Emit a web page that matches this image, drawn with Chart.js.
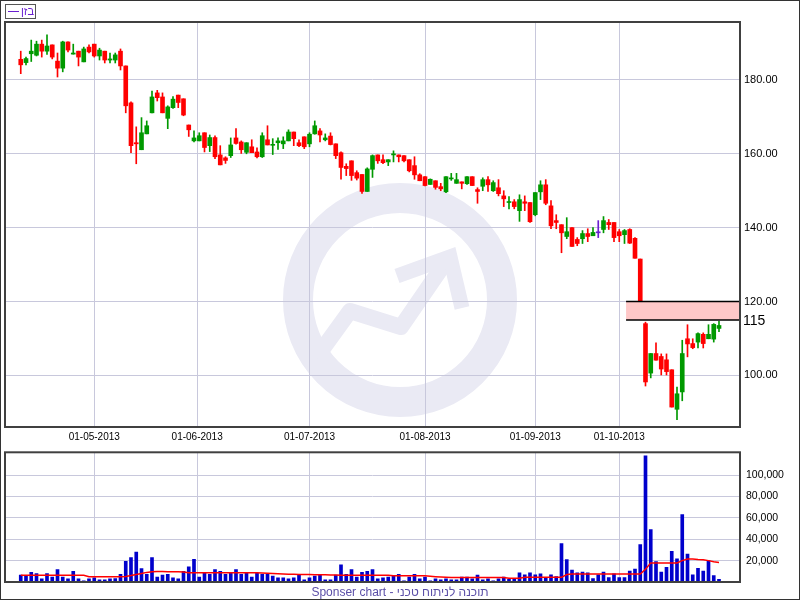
<!DOCTYPE html>
<html>
<head>
<meta charset="utf-8">
<script src="https://cdn.jsdelivr.net/npm/chart.js@4.4.1/dist/chart.umd.min.js"></script>
<style>
  html, body { margin: 0; padding: 0; background: #fff; }
  #tela { position: relative; width: 800px; height: 600px; overflow: hidden; font-family: Arial, "Liberation Sans", sans-serif; }
  #graficoPreco { position: absolute; left: 0; top: 0; }
  #graficoVolume { position: absolute; left: 0; top: 440px; }
  #moldura { position: absolute; left: 0; top: 0; width: 800px; height: 600px; box-sizing: border-box; border: 1px solid #333; pointer-events: none; }
  #rodape { position: absolute; left: 0; top: 585px; width: 800px; text-align: center; font-size: 12px; line-height: 14px; color: #5b4fa8; }
</style>
</head>
<body>
<div id="tela">
  <canvas id="graficoPreco" width="800" height="444"></canvas>
  <canvas id="graficoVolume" width="800" height="160"></canvas>
  <div id="rodape">Sponser chart - תוכנה לניתוח טכני</div>
  <div id="moldura"></div>
</div>
<script>
// Velas diárias (abertura, máxima, mínima, fechamento)
const abertura = [185.6,184.7,187.1,186.7,189.7,187.8,189.5,185.1,183.2,190.3,187.0,187.8,184.9,188.9,189.7,186.5,187.8,185.4,185.4,187.8,
  183.8,173.8,163.0,161.1,165.4,171.1,176.5,175.4,169.6,172.5,175.9,174.9,167.8,163.5,163.5,165.7,162.2,164.4,159.7,158.9,
  159.5,164.3,163.2,160.4,161.9,160.5,159.2,163.8,162.3,163.0,162.7,163.5,165.9,163.0,164.6,162.7,165.4,166.2,163.8,164.8,
  162.7,160.3,156.6,158.1,154.9,154.4,149.8,155.8,159.7,158.4,157.8,159.7,159.7,159.5,158.4,156.8,154.3,153.8,151.7,152.7,
  151.1,149.7,153.2,152.0,152.4,151.9,153.8,150.3,151.2,153.0,150.0,150.8,148.6,146.8,147.0,144.6,147.0,146.8,143.5,149.7,
  151.6,145.9,141.9,140.8,137.6,140.0,136.8,137.0,138.4,137.8,138.6,139.5,141.4,141.4,138.9,138.1,139.5,137.1,131.5,114.0,
  100.6,105.9,105.1,104.2,101.5,90.8,95.5,109.9,108.6,109.0,111.1,109.9,109.8,112.7];
const maxima = [187.8,186.2,190.8,190.5,190.8,192.2,189.5,187.3,190.5,190.3,189.7,187.8,188.9,189.5,189.7,188.6,187.8,187.3,187.3,188.4,
  183.8,174.1,167.3,169.8,168.9,177.0,177.2,176.5,173.0,175.5,175.9,174.9,167.8,166.2,165.7,165.7,165.1,164.9,162.2,159.2,
  164.3,166.8,163.5,163.0,163.8,161.6,165.7,167.6,164.1,164.3,164.6,166.5,165.9,163.8,164.6,165.7,168.9,166.8,165.4,165.7,
  162.7,160.5,157.3,158.1,155.4,154.4,156.2,159.7,159.7,159.7,158.4,160.8,159.7,159.5,158.4,159.2,154.6,153.8,153.2,152.7,
  152.0,153.8,154.7,154.7,152.4,153.8,153.8,150.8,153.5,153.8,152.7,153.0,150.0,148.4,147.6,148.9,148.6,146.8,149.5,152.7,
  153.0,147.3,143.5,140.8,142.7,140.0,137.3,139.2,139.7,140.0,141.9,143.0,142.2,141.4,139.5,139.5,139.7,137.3,131.5,114.4,
  105.9,108.8,105.8,105.8,101.5,96.8,109.5,113.7,109.9,111.5,111.5,113.7,114.0,114.6];
const minima = [181.7,184.1,185.0,186.5,186.2,186.9,185.7,180.8,182.2,187.6,187.0,183.8,184.9,187.3,186.2,185.4,184.6,184.6,184.6,182.7,
  171.1,160.3,157.3,161.1,165.4,171.1,174.3,171.1,166.8,172.3,172.5,170.3,164.7,163.2,163.5,160.5,160.6,158.7,157.0,157.4,
  159.0,162.6,160.1,160.0,160.3,158.9,159.0,162.4,159.8,161.2,161.4,163.5,162.2,161.9,161.4,161.9,165.3,163.2,163.5,162.4,
  158.7,153.1,154.1,152.8,152.9,149.3,149.8,153.6,157.4,157.3,156.8,157.8,157.8,157.8,155.1,153.1,152.7,151.3,151.7,150.4,
  150.0,149.5,152.8,152.0,150.5,151.7,151.4,146.6,150.0,149.8,149.8,148.6,145.7,145.1,145.1,141.7,144.6,141.4,143.2,147.6,
  146.2,139.7,139.7,133.2,137.0,134.9,135.1,135.7,136.2,137.8,137.3,138.6,139.5,136.2,136.2,135.7,135.7,131.7,120.0,97.1,
  99.3,104.1,100.1,100.1,91.4,88.0,93.1,105.0,107.2,107.4,107.4,109.9,109.0,111.8];
const fechamento = [184.1,185.8,187.8,189.7,187.8,189.2,186.2,183.2,190.3,188.1,187.3,186.2,188.4,187.6,186.5,188.1,185.4,185.7,186.8,183.8,
  173.0,162.2,162.7,165.7,167.6,175.4,175.2,171.1,172.7,174.8,173.9,170.5,166.5,164.3,164.9,161.7,164.4,159.2,157.0,158.2,
  162.4,162.8,161.1,163.0,160.3,159.2,164.9,162.4,162.5,163.5,163.5,165.9,164.1,162.2,161.9,165.3,167.6,165.1,164.3,162.5,
  159.5,156.3,156.0,154.1,153.4,149.8,155.9,159.5,158.1,157.6,158.4,160.0,159.2,158.1,155.4,154.3,152.7,151.4,153.1,150.9,
  150.5,153.8,153.3,153.0,152.0,153.8,151.4,149.8,153.0,151.6,152.2,149.2,147.8,147.0,145.7,147.6,146.6,141.6,149.5,151.6,
  146.6,140.5,141.4,138.6,138.9,134.9,135.7,138.4,137.6,138.7,138.6,141.9,140.8,137.3,137.8,139.2,135.8,131.7,120.0,98.2,
  105.9,104.1,101.7,101.0,91.4,95.0,105.9,108.5,107.5,111.3,108.6,111.1,113.8,113.5];

// Volume diário e a média móvel (linha vermelha)
const volumes = [6400,5500,9000,7800,2900,7800,4600,11600,4600,2900,9900,2900,1200,2900,3800,2000,2000,2900,3200,7200,
  19400,22900,28100,12500,7200,22900,4600,6400,7200,3800,2900,9900,14200,21200,4600,8100,7200,11600,9900,7200,
  8100,11600,7200,8100,4600,8100,7200,7200,5500,3800,3800,2900,3800,7200,2000,3800,5500,6400,2000,2000,
  6400,16000,7200,11600,4600,9000,9900,11600,2900,3800,4600,5800,7200,1200,4600,7200,2900,4600,1200,2900,
  2000,2900,2000,2000,4600,4600,2900,6400,2000,2900,1200,2900,4600,2400,2900,8500,6800,8500,6800,7600,
  4100,6800,5000,35900,20900,11200,8500,9400,8500,3200,6800,9400,4100,7600,4100,4100,10300,12100,35000,118000,
  49100,19100,9400,13800,28800,21800,63200,26200,6800,12900,10300,20000,5900,2400];
const mediaVolume = [6400,6400,6400,6400,6400,6400,6400,6400,6400,6400,6400,6400,6400,4900,4900,4900,4900,4900,4900,4900,
  5200,6000,7000,8000,9000,9600,9900,9800,9500,9500,9500,9300,8700,8700,8700,8700,8700,8700,8700,8700,
  8700,8700,8700,8700,8700,8700,8500,8300,8000,7700,7500,7300,7200,7100,7000,7000,6900,6800,6700,6600,
  6500,6400,6400,6400,6400,6400,6400,6400,6400,6400,6400,5800,5800,5800,5800,5800,5800,5800,5300,4900,
  4600,4400,4300,4200,4100,4100,4100,4100,4100,4100,4100,4100,4100,3500,3500,3500,4400,4400,4400,4400,
  4400,4400,4400,4400,7000,7400,7400,7400,7400,7400,7400,7400,7400,7400,7400,7400,7400,7400,7400,12000,
  17900,17900,17900,17900,17900,17900,20000,21500,21500,21000,20800,20000,19000,18200];

// Eixos: datas do início de cada mês (posição = índice do pregão) e marcas de preço/volume
const rotulosMes = ['01-05-2013', '01-06-2013', '01-07-2013', '01-08-2013', '01-09-2013', '01-10-2013'];
const indicesMes = [14, 33.6, 55, 77, 98, 114];
const precoTicks = [100, 120, 140, 160, 180];
const volumeTicks = [20000, 40000, 60000, 80000, 100000];

// Faixa destacada (gap) entre 115 e 120
const gapInicio = [115.3];
const gapFaixa = [115, 120];

// Nome do papel na legenda
const nomeSerie = 'בזן';

const VERDE = '#009900';
const VERMELHO = '#ff0000';
const ROXO = '#6a1fd0';
const GRADE = '#c8c8dc';
const FONTE = 'Arial, "Liberation Sans", sans-serif';
const X_MIN = -3, X_MAX = 137;

const indices = fechamento.map((_, i) => i);
const corVela = indices.map(i =>
  fechamento[i] > abertura[i] ? VERDE : (fechamento[i] < abertura[i] ? VERMELHO : ROXO));

// Moldura escura em volta da área do gráfico
const moldura = {
  id: 'moldura',
  afterDraw(chart) {
    const a = chart.chartArea, ctx = chart.ctx;
    ctx.save();
    ctx.strokeStyle = '#404040';
    ctx.lineWidth = 2;
    ctx.strokeRect(a.left, a.top, a.right - a.left, a.bottom - a.top);
    ctx.restore();
  }
};

// Caixinha da legenda no canto superior esquerdo
const legendaCaixa = {
  id: 'legendaCaixa',
  afterDraw(chart) {
    const ctx = chart.ctx;
    ctx.save();
    ctx.fillStyle = '#fff';
    ctx.fillRect(5, 4, 30, 14);
    ctx.strokeStyle = '#555';
    ctx.lineWidth = 1;
    ctx.strokeRect(5.5, 4.5, 30, 14);
    ctx.strokeStyle = ROXO;
    ctx.beginPath();
    ctx.moveTo(8, 11.5);
    ctx.lineTo(19, 11.5);
    ctx.stroke();
    ctx.fillStyle = ROXO;
    ctx.font = '11px ' + FONTE;
    ctx.textBaseline = 'middle';
    ctx.textAlign = 'left';
    ctx.direction = 'ltr';
    ctx.fillText(nomeSerie, 21, 12);
    ctx.restore();
  }
};

// Logo de fundo (marca d'água)
const marcaDagua = {
  id: 'marcaDagua',
  beforeDraw(chart) {
    const ctx = chart.ctx;
    ctx.save();
    ctx.strokeStyle = 'rgb(234,234,244)';
    ctx.lineWidth = 30;
    ctx.beginPath();
    ctx.arc(400, 300, 102, 0, Math.PI * 2);
    ctx.stroke();
    // linha em zigue-zague
    ctx.lineWidth = 16;
    ctx.lineJoin = 'round';
    ctx.beginPath();
    ctx.moveTo(316, 358);
    ctx.lineTo(350, 311);
    ctx.lineTo(401, 327);
    ctx.lineTo(447, 260);
    ctx.stroke();
    // ponta da seta
    ctx.lineWidth = 15;
    ctx.lineJoin = 'miter';
    ctx.beginPath();
    ctx.moveTo(397, 276);
    ctx.lineTo(450, 257);
    ctx.lineTo(462, 308);
    ctx.stroke();
    ctx.restore();
  }
};

// Faixa rosa do gap com o rótulo "115"
const faixaGap = {
  id: 'faixaGap',
  afterDatasetsDraw(chart) {
    const ctx = chart.ctx, a = chart.chartArea;
    const x0 = chart.scales.x.getPixelForValue(gapInicio[0]);
    const yBaixo = chart.scales.y.getPixelForValue(gapFaixa[0]);
    const yAlto = chart.scales.y.getPixelForValue(gapFaixa[1]);
    ctx.save();
    ctx.fillStyle = '#ffc8c8';
    ctx.fillRect(x0, yAlto, a.right - x0, yBaixo - yAlto);
    ctx.strokeStyle = '#000';
    ctx.lineWidth = 1.5;
    ctx.beginPath();
    ctx.moveTo(x0, yAlto); ctx.lineTo(a.right, yAlto);
    ctx.moveTo(x0, yBaixo); ctx.lineTo(a.right, yBaixo);
    ctx.stroke();
    ctx.fillStyle = '#000';
    ctx.font = '14px ' + FONTE;
    ctx.textBaseline = 'middle';
    ctx.fillText(String(gapFaixa[0]), a.right + 3, yBaixo + 1);
    ctx.restore();
  }
};

function eixoX(mostrarRotulos) {
  return {
    type: 'linear', min: X_MIN, max: X_MAX, offset: false,
    afterBuildTicks: s => { s.ticks = indicesMes.map(v => ({ value: v })); },
    afterFit: s => { s.height = mostrarRotulos ? 17 : 0; },
    grid: { color: GRADE, drawTicks: false, offset: false },
    border: { display: false },
    ticks: {
      display: mostrarRotulos, autoSkip: false, maxRotation: 0, padding: 4,
      color: '#000', font: { size: 10, family: FONTE },
      callback: v => rotulosMes[indicesMes.indexOf(v)]
    }
  };
}

// Gráfico de preços (velas feitas com barras flutuantes)
new Chart(document.getElementById('graficoPreco'), {
  type: 'bar',
  data: {
    datasets: [
      {
        data: indices.map(i => ({ x: i, y: [minima[i], maxima[i]] })),
        backgroundColor: corVela, barThickness: 1, grouped: false, order: 2
      },
      {
        data: indices.map(i => ({ x: i, y: [abertura[i], fechamento[i]] })),
        backgroundColor: corVela, barThickness: 4, minBarLength: 1, grouped: false, order: 1
      }
    ]
  },
  options: {
    responsive: false, animation: false, devicePixelRatio: 1,
    layout: { padding: { left: 5, top: 22, right: 0, bottom: 0 } },
    plugins: { legend: { display: false }, tooltip: { enabled: false } },
    scales: {
      x: eixoX(true),
      y: {
        position: 'right', min: 86, max: 195.7,
        afterBuildTicks: s => { s.ticks = precoTicks.map(v => ({ value: v })); },
        afterFit: s => { s.width = 60; },
        grid: { color: GRADE, drawTicks: false },
        border: { display: false },
        ticks: { padding: 4, color: '#000', font: { size: 11, family: FONTE }, callback: v => v.toFixed(2) }
      }
    }
  },
  plugins: [marcaDagua, faixaGap, moldura, legendaCaixa]
});

// Gráfico de volume com a média
new Chart(document.getElementById('graficoVolume'), {
  type: 'bar',
  data: {
    datasets: [
      {
        type: 'line',
        data: indices.map(i => ({ x: i, y: mediaVolume[i] })),
        borderColor: '#ff0000', borderWidth: 1.5, pointRadius: 0, tension: 0, order: 0
      },
      {
        data: indices.map(i => ({ x: i, y: volumes[i] })),
        backgroundColor: '#0000cc', barThickness: 3, grouped: false, order: 1
      }
    ]
  },
  options: {
    responsive: false, animation: false, devicePixelRatio: 1,
    layout: { padding: { left: 5, top: 4, right: 0, bottom: 18 } },
    plugins: { legend: { display: false }, tooltip: { enabled: false } },
    scales: {
      x: eixoX(false),
      y: {
        position: 'right', min: 0, max: 121400,
        afterBuildTicks: s => { s.ticks = volumeTicks.map(v => ({ value: v })); },
        afterFit: s => { s.width = 60; },
        grid: { color: GRADE, drawTicks: false },
        border: { display: false },
        ticks: { padding: 6, color: '#000', font: { size: 10.5, family: FONTE }, callback: v => v.toLocaleString('en-US') }
      }
    }
  },
  plugins: [moldura]
});
</script>
</body>
</html>
